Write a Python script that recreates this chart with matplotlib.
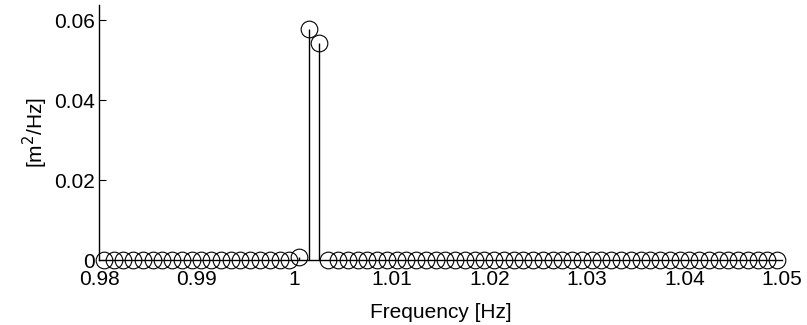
import numpy as np
import matplotlib
matplotlib.use("Agg")
import matplotlib.pyplot as plt

plt.rcParams['font.family'] = ['Liberation Sans', 'DejaVu Sans']

# Spectral bins (Hz) and power spectral density values (m^2/Hz)
freq_start = 0.9805
freq_step = 0.001
n_bins = 70
freqs = freq_start + freq_step * np.arange(n_bins)
psd = np.zeros(n_bins)
psd_nonzero = {20: 0.0007, 21: 0.0578, 22: 0.0542}
for idx, val in psd_nonzero.items():
    psd[idx] = val

xticks = [0.98, 0.99, 1.00, 1.01, 1.02, 1.03, 1.04, 1.05]
xticklabels = ['0.98', '0.99', '1', '1.01', '1.02', '1.03', '1.04', '1.05']
yticks = [0, 0.02, 0.04, 0.06]
yticklabels = ['0', '0.02', '0.04', '0.06']

fig = plt.figure(figsize=(8.07, 3.25), dpi=100)
ax = fig.add_axes([0.1227, 0.2, 0.8463, 0.785])

markerline, stemlines, baseline = ax.stem(freqs, psd, linefmt='k-', markerfmt='ko', basefmt='k-')
markerline.set_markerfacecolor('none')
markerline.set_markeredgecolor('black')
markerline.set_markersize(12)
markerline.set_markeredgewidth(0.8)
markerline.set_clip_on(False)
stemlines.set_linewidth(1.0)
baseline.set_linewidth(1.0)
baseline.set_clip_on(False)
baseline.set_xdata([0.98, 1.05])

ax.set_xlim(0.98, 1.05)
ax.set_ylim(0, 0.0638)
ax.set_xticks(xticks)
ax.set_xticklabels(xticklabels)
ax.set_yticks(yticks)
ax.set_yticklabels(yticklabels)
ax.tick_params(direction='in', length=5, width=0.8, labelsize=15, pad=3)
ax.tick_params(axis='x', length=0, pad=7)

for side in ('top', 'right', 'bottom'):
    ax.spines[side].set_visible(False)
ax.spines['left'].set_linewidth(1.0)

ax.set_xlabel('Frequency [Hz]', fontsize=15, labelpad=10)
ax.set_ylabel('[m$^2$/Hz]', fontsize=15, labelpad=3)

fig.savefig('out.png', dpi=100)
